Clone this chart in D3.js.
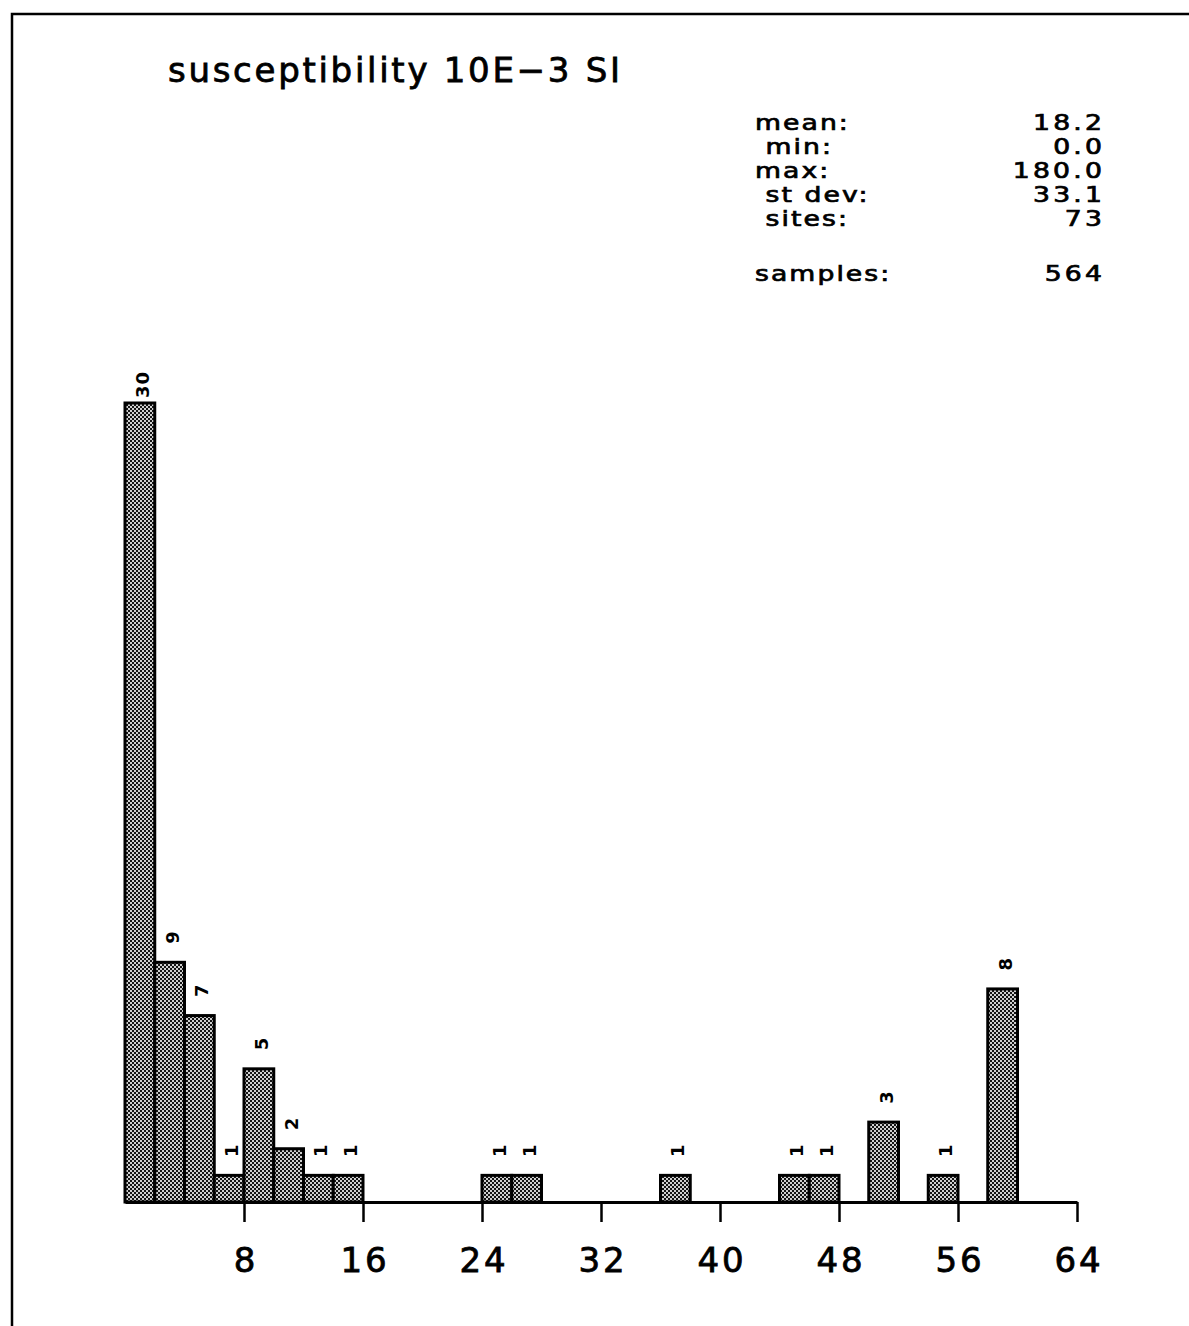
<!DOCTYPE html>
<html>
<head>
<meta charset="utf-8">
<script src="https://cdn.jsdelivr.net/npm/d3@7"></script>
<style>
  html, body { margin: 0; padding: 0; background: #fff; }
  svg { display: block; }
  text { font-family: "DejaVu Sans", sans-serif; fill: #000; }
</style>
</head>
<body>
<svg id="chart" width="1189" height="1326"></svg>
<script>
// Histogram of susceptibility values, bins of width 2 (10E-3 SI)
const binWidth = 2;
const binCounts = [30, 9, 7, 1, 5, 2, 1, 1, 0, 0, 0, 0, 1, 1, 0, 0,
                   0, 0, 1, 0, 0, 0, 1, 1, 0, 3, 0, 1, 0, 8, 0, 0];
const xTicks = [8, 16, 24, 32, 40, 48, 56, 64];
const titleText = "susceptibility 10E\u22123 SI";
const statLabels = ["mean:", " min:", "max:", " st dev:", " sites:", "samples:"];
const statValues = ["18.2", "0.0", "180.0", "33.1", "73", "564"];

const bins = binCounts.map((count, i) => ({ start: i * binWidth, count }));

const svg = d3.select("#chart");

// stippled fill used by the bars
const defs = svg.append("defs");
const pat = defs.append("pattern")
  .attr("id", "stipple")
  .attr("patternUnits", "userSpaceOnUse")
  .attr("width", 4).attr("height", 4);
pat.append("rect").attr("width", 4).attr("height", 4).attr("fill", "#141414");
pat.append("rect").attr("x", 0).attr("y", 0).attr("width", 2).attr("height", 2).attr("fill", "#cfcfcf");
pat.append("rect").attr("x", 2).attr("y", 2).attr("width", 2).attr("height", 2).attr("fill", "#cfcfcf");

// page frame (top and left rules)
svg.append("path")
  .attr("d", "M12,1326V14H1189")
  .attr("fill", "none")
  .attr("stroke", "#000")
  .attr("stroke-width", 2.5);

const x = d3.scaleLinear().domain([0, 64]).range([125, 1077]);
const y = d3.scaleLinear().domain([0, 30]).range([1202, 403]);

// bars
const shown = bins.filter(d => d.count > 0);
svg.append("g")
  .selectAll("rect")
  .data(shown)
  .join("rect")
  .attr("x", d => x(d.start))
  .attr("y", d => y(d.count))
  .attr("width", d => x(d.start + binWidth) - x(d.start))
  .attr("height", d => y(0) - y(d.count))
  .attr("fill", "url(#stipple)")
  .attr("stroke", "#000")
  .attr("stroke-width", 3);

// count labels, rotated, above each bar
svg.append("g")
  .selectAll("text")
  .data(shown)
  .join("text")
  .attr("transform", d => `translate(${x(d.start + binWidth / 2) + 9},${y(d.count) - 32}) rotate(-90)`)
  .attr("text-anchor", "end")
  .attr("font-size", 18)
  .attr("font-weight", "bold")
  .attr("letter-spacing", 1)
  .text(d => d.count);

// x axis
const axis = svg.append("g")
  .attr("transform", `translate(0,${y(0)})`)
  .call(d3.axisBottom(x).tickValues(xTicks).tickSize(20).tickSizeOuter(0));
axis.select(".domain").attr("stroke", "#000").attr("stroke-width", 3);
axis.selectAll(".tick line").attr("stroke", "#000").attr("stroke-width", 2.5);
axis.selectAll(".tick text")
  .attr("y", 70)
  .attr("dy", 0)
  .attr("dx", 1.5)
  .attr("font-family", "DejaVu Sans, sans-serif")
  .attr("font-size", 34)
  .attr("letter-spacing", 3)
  .attr("stroke", "#000")
  .attr("stroke-width", 0.8)
  .attr("fill", "#000");

// title
svg.append("text")
  .attr("x", 168)
  .attr("y", 82)
  .attr("font-size", 34)
  .attr("textLength", 452)
  .attr("lengthAdjust", "spacing")
  .attr("stroke", "#000")
  .attr("stroke-width", 0.8)
  .text(titleText);

// summary statistics block: wide lettering, tightly stacked rows
const stretch = 1.3;
const valueSpacing = 2.5;
const rowY = i => 130 + i * 24 + (i === statLabels.length - 1 ? 31 : 0);
const stats = svg.append("g").attr("font-size", 20.5);
stats.selectAll("text.label")
  .data(statLabels)
  .join("text")
  .attr("class", "label")
  .attr("transform", (d, i) => `translate(755,${rowY(i)}) scale(${stretch},1)`)
  .attr("letter-spacing", 1.6)
  .attr("stroke", "#000")
  .attr("stroke-width", 0.7)
  .style("white-space", "pre")
  .text(d => d);
stats.selectAll("text.value")
  .data(statValues)
  .join("text")
  .attr("class", "value")
  .attr("transform", (d, i) => `translate(${1102 + valueSpacing * stretch},${rowY(i)}) scale(${stretch},1)`)
  .attr("text-anchor", "end")
  .attr("letter-spacing", valueSpacing)
  .attr("stroke", "#000")
  .attr("stroke-width", 0.7)
  .text(d => d);
</script>
</body>
</html>
